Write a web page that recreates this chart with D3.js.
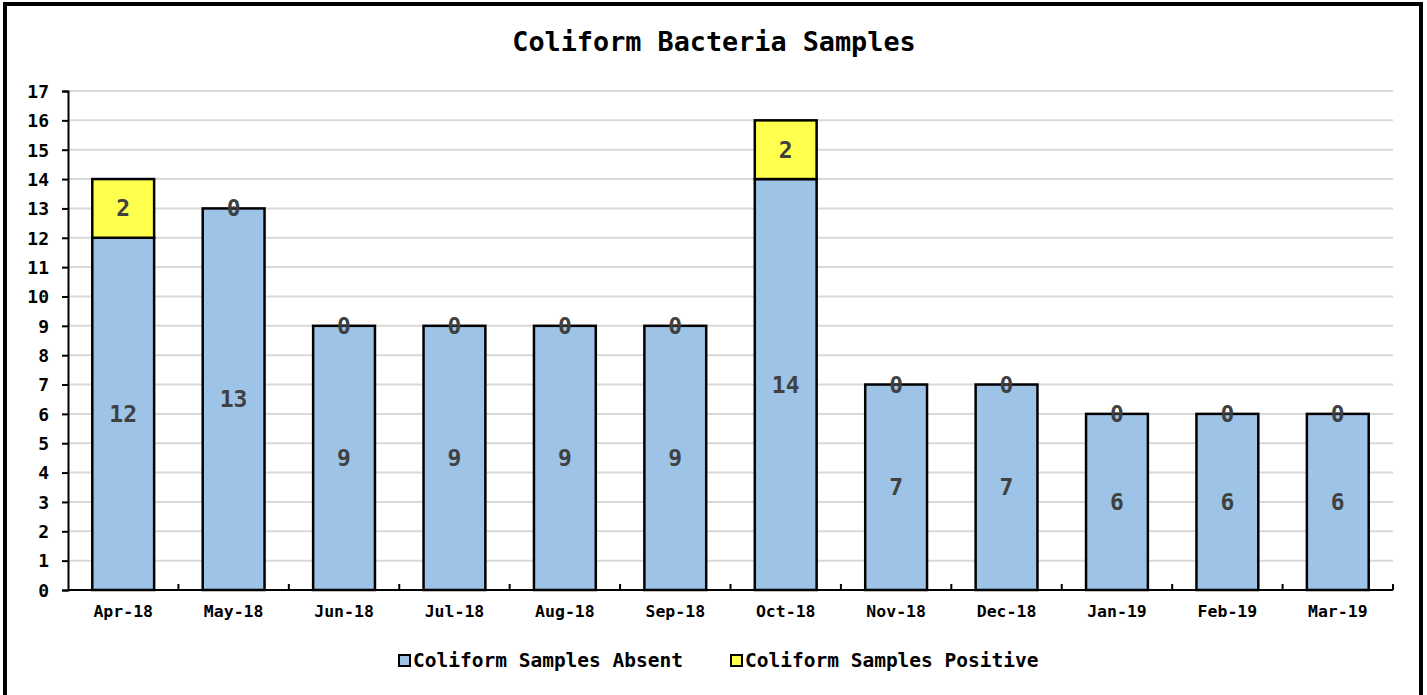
<!DOCTYPE html>
<html>
<head>
<meta charset="utf-8">
<script src="https://cdn.jsdelivr.net/npm/d3@7"></script>
<style>
  body { margin: 0; background: #fff; }
  text { font-family: "DejaVu Sans Mono", "Liberation Mono", monospace; font-weight: bold; }
</style>
</head>
<body>
<div id="chart"></div>
<script>
// chart data
var months = ["Apr-18","May-18","Jun-18","Jul-18","Aug-18","Sep-18","Oct-18","Nov-18","Dec-18","Jan-19","Feb-19","Mar-19"];
var absent = [12,13,9,9,9,9,14,7,7,6,6,6];
var positive = [2,0,0,0,0,0,2,0,0,0,0,0];
var yTicks = d3.range(0,18);
var seriesNames = ["Coliform Samples Absent","Coliform Samples Positive"];
var colors = ["#9dc3e6","#ffff4d"];

var W = 1427, H = 695;
var margin = {left: 68, right: 34, top: 91, bottom: 105}; // plot area 68..1393, 91..590

var svg = d3.select("#chart").append("svg")
  .attr("width", W).attr("height", H);

// outer frame
svg.append("rect")
  .attr("x", 5).attr("y", 4).attr("width", 1416).attr("height", 710)
  .attr("fill", "#fff").attr("stroke", "#000").attr("stroke-width", 4);

// title
svg.append("text")
  .attr("x", 714).attr("y", 51)
  .attr("text-anchor", "middle")
  .attr("font-size", 26.8)
  .text("Coliform Bacteria Samples");

var x = d3.scaleBand().domain(months).range([margin.left, W - margin.right]).paddingInner(0.44).paddingOuter(0.22);
var y = d3.scaleLinear().domain([0, 17]).range([H - margin.bottom, margin.top]);

// gridlines
svg.append("g").selectAll("line").data(yTicks.slice(1)).enter().append("line")
  .attr("x1", margin.left).attr("x2", W - margin.right)
  .attr("y1", function(d){ return y(d); }).attr("y2", function(d){ return y(d); })
  .attr("stroke", "#d9d9d9").attr("stroke-width", 2);

// stacked data
var rows = months.map(function(m, i){ return {month: m, absent: absent[i], positive: positive[i]}; });
var stack = d3.stack().keys(["absent","positive"])(rows);

var layers = svg.append("g").selectAll("g").data(stack).enter().append("g")
  .attr("fill", function(d, i){ return colors[i]; });
layers.selectAll("rect").data(function(d){ return d; }).enter().append("rect")
  .attr("x", function(d){ return x(d.data.month); })
  .attr("width", x.bandwidth())
  .attr("y", function(d){ return y(d[1]); })
  .attr("height", function(d){ return y(d[0]) - y(d[1]); })
  .attr("stroke", "#000").attr("stroke-width", 2.5);

// data labels
stack.forEach(function(layer){
  svg.append("g").selectAll("text").data(layer).enter().append("text")
    .attr("x", function(d){ return x(d.data.month) + x.bandwidth()/2; })
    .attr("y", function(d){ return (y(d[0]) + y(d[1]))/2 + 8; })
    .attr("text-anchor", "middle")
    .attr("font-size", 23)
    .attr("fill", "#404040")
    .text(function(d){ return d[1] - d[0]; });
});

// y axis
var yAxis = svg.append("g")
  .attr("transform", "translate(" + margin.left + ",0)")
  .call(d3.axisLeft(y).tickValues(yTicks).tickSize(6).tickPadding(13));
yAxis.select(".domain").attr("stroke", "#000").attr("stroke-width", 2);
yAxis.selectAll(".tick line").attr("stroke", "#000").attr("stroke-width", 2);
yAxis.selectAll(".tick text").attr("font-size", 18).attr("fill", "#000").attr("dy", "0.35em")
  .style("font-family", "DejaVu Sans Mono").style("font-weight", "bold");

// x axis
var xAxis = svg.append("g")
  .attr("transform", "translate(0," + y(0) + ")")
  .call(d3.axisBottom(x).tickSize(0).tickPadding(15));
xAxis.select(".domain").remove();
xAxis.selectAll(".tick text").attr("font-size", 16.5).attr("fill", "#000")
  .style("font-family", "DejaVu Sans Mono").style("font-weight", "bold");
svg.append("line")
  .attr("x1", margin.left).attr("x2", W - margin.right)
  .attr("y1", y(0)).attr("y2", y(0))
  .attr("stroke", "#000").attr("stroke-width", 2);
// boundary ticks between categories
svg.append("g").selectAll("line").data(d3.range(1, months.length + 1)).enter().append("line")
  .attr("x1", function(i){ return margin.left + i * x.step() / (1 - 0) ; })
  .attr("x2", function(i){ return margin.left + i * x.step(); })
  .attr("y1", y(0)).attr("y2", y(0) - 6)
  .attr("stroke", "#000").attr("stroke-width", 2);

// legend
var legendX = [399, 731];
var legend = svg.append("g").selectAll("g").data(seriesNames).enter().append("g")
  .attr("transform", function(d, i){ return "translate(" + legendX[i] + ",655)"; });
legend.append("rect")
  .attr("width", 11).attr("height", 11)
  .attr("fill", function(d, i){ return colors[i]; })
  .attr("stroke", "#000").attr("stroke-width", 2);
legend.append("text")
  .attr("x", 14).attr("y", 12)
  .attr("font-size", 19.5)
  .text(function(d){ return d; });
</script>
</body>
</html>
